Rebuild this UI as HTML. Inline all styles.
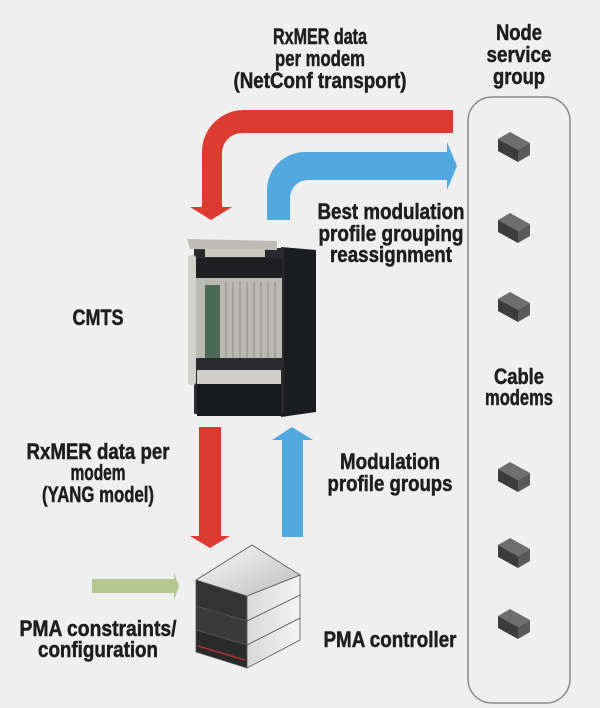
<!DOCTYPE html>
<html><head><meta charset="utf-8"><style>
html,body{margin:0;padding:0;background:#efefef;}
svg{display:block;}
text{font-family:"Liberation Sans",sans-serif;font-weight:bold;font-size:22px;fill:#1e1e1e;stroke:#1e1e1e;stroke-width:0.5;}
</style></head><body>
<svg width="600" height="708" viewBox="0 0 600 708" xmlns="http://www.w3.org/2000/svg">
<defs>
<linearGradient id="st" x1="0" y1="0" x2="1" y2="1"><stop offset="0" stop-color="#fafafa"/><stop offset="1" stop-color="#bdbdbd"/></linearGradient>
<linearGradient id="sr" x1="0" y1="0" x2="1" y2="0"><stop offset="0" stop-color="#d8d8d8"/><stop offset="1" stop-color="#f4f4f4"/></linearGradient>
<g id="modem">
<polygon points="0,7 12,0 32,11 20,18" fill="#6e6e6e"/>
<polygon points="0,7 20,18 20,30 0,19" fill="#3c3c3c"/>
<polygon points="20,18 32,11 32,23 20,30" fill="#5a5a5a"/>
</g>
</defs>

<rect x="468" y="97" width="102" height="606" rx="24" ry="24" fill="none" stroke="#8a8a8a" stroke-width="1.5"/>

<path d="M453,110 L244,110 A42,42 0 0 0 202,152 L202,207 L190,207 L211,220 L232,207 L222,207 L222,153 A20,20 0 0 1 242,133 L453,133 Z" fill="#dd3a30"/>
<path d="M267,220 L267,190 A38,38 0 0 1 305,152 L447,152 L447,142 L457,166 L447,190 L447,180 L308,180 A18,18 0 0 0 290,198 L290,220 Z" fill="#52a9df"/>

<path d="M199,427 L221,427 L221,536 L230,536 L210,548 L190,536 L199,536 Z" fill="#dd3a30"/>
<path d="M282,537 L303,537 L303,440 L313,440 L292,427 L272,440 L282,440 Z" fill="#52a9df"/>
<path d="M92,579 L174,579 L174,573 L179,586 L174,600 L174,593 L92,593 Z" fill="#b4c88f"/>

<g>
<polygon points="281,247 316,250 316,412 281,417" fill="#1c1d22"/>
<rect x="194" y="248" width="90" height="166" fill="#2a2a2e"/>
<polygon points="187,239 277,241 277,250 190,249" fill="#bdbdb5"/>
<rect x="205" y="249" width="60" height="8" fill="#c9c9c0"/>
<rect x="196" y="258" width="86" height="20" fill="#1f1f22"/>
<rect x="196" y="278" width="86" height="88" fill="#b9b9b2"/>
<rect x="205" y="285" width="15" height="80" fill="#4a6a55"/>
<g stroke="#8d8d87" stroke-width="1">
<line x1="226" y1="282" x2="226" y2="366"/><line x1="233" y1="282" x2="233" y2="366"/><line x1="240" y1="282" x2="240" y2="366"/><line x1="247" y1="282" x2="247" y2="366"/><line x1="254" y1="282" x2="254" y2="366"/><line x1="261" y1="282" x2="261" y2="366"/><line x1="268" y1="282" x2="268" y2="366"/><line x1="275" y1="282" x2="275" y2="366"/>
</g>
<rect x="196" y="358" width="86" height="12" fill="#2a2a2e"/>
<rect x="197" y="370" width="84" height="14" fill="#cfcfc8"/>
<rect x="197" y="384" width="84" height="32" fill="#17181b"/>
<rect x="188" y="255" width="8" height="130" rx="3" fill="#d2d2cc"/>
</g>

<g stroke="#555" stroke-width="0.8">
<polygon points="196,630 247,645 247,668 196,652" fill="#2a2a2a"/>
<polygon points="247,645 300,618 300,640 247,668" fill="url(#sr)"/>
<polygon points="196,606 247,621 247,645 196,630" fill="#3a3a3a"/>
<polygon points="247,621 300,595 300,618 247,645" fill="url(#sr)"/>
<polygon points="196,580 247,596 247,621 196,606" fill="#333"/>
<polygon points="247,596 300,575 300,595 247,621" fill="url(#sr)"/>
<polygon points="196,580 252,545 300,575 247,596" fill="url(#st)"/>
</g>
<line x1="198" y1="646" x2="245" y2="660" stroke="#a33" stroke-width="1.5"/>

<use href="#modem" x="498" y="132"/>
<use href="#modem" x="498" y="213"/>
<use href="#modem" x="498" y="292"/>
<use href="#modem" x="498" y="462"/>
<use href="#modem" x="498" y="538"/>
<use href="#modem" x="498" y="609"/>

<text x="320" y="44" text-anchor="middle" textLength="94" lengthAdjust="spacingAndGlyphs">RxMER data</text>
<text x="320" y="66" text-anchor="middle" textLength="90" lengthAdjust="spacingAndGlyphs">per modem</text>
<text x="320" y="88" text-anchor="middle" textLength="173" lengthAdjust="spacingAndGlyphs">(NetConf transport)</text>
<text x="519" y="40" text-anchor="middle" textLength="46" lengthAdjust="spacingAndGlyphs">Node</text>
<text x="519" y="62" text-anchor="middle" textLength="65" lengthAdjust="spacingAndGlyphs">service</text>
<text x="519" y="84" text-anchor="middle" textLength="52" lengthAdjust="spacingAndGlyphs">group</text>
<text x="391" y="219" text-anchor="middle" textLength="147" lengthAdjust="spacingAndGlyphs">Best modulation</text>
<text x="391" y="241" text-anchor="middle" textLength="145" lengthAdjust="spacingAndGlyphs">profile grouping</text>
<text x="391" y="262" text-anchor="middle" textLength="122" lengthAdjust="spacingAndGlyphs">reassignment</text>
<text x="98" y="325" text-anchor="middle" textLength="51" lengthAdjust="spacingAndGlyphs">CMTS</text>
<text x="519" y="384" text-anchor="middle" textLength="50" lengthAdjust="spacingAndGlyphs">Cable</text>
<text x="519" y="405" text-anchor="middle" textLength="68" lengthAdjust="spacingAndGlyphs">modems</text>
<text x="98" y="459" text-anchor="middle" textLength="143" lengthAdjust="spacingAndGlyphs">RxMER data per</text>
<text x="98" y="480" text-anchor="middle" textLength="55" lengthAdjust="spacingAndGlyphs">modem</text>
<text x="98" y="502" text-anchor="middle" textLength="112" lengthAdjust="spacingAndGlyphs">(YANG model)</text>
<text x="390" y="469" text-anchor="middle" textLength="100" lengthAdjust="spacingAndGlyphs">Modulation</text>
<text x="390" y="491" text-anchor="middle" textLength="125" lengthAdjust="spacingAndGlyphs">profile groups</text>
<text x="98" y="636" text-anchor="middle" textLength="157" lengthAdjust="spacingAndGlyphs">PMA constraints/</text>
<text x="98" y="657" text-anchor="middle" textLength="120" lengthAdjust="spacingAndGlyphs">configuration</text>
<text x="390" y="647" text-anchor="middle" textLength="133" lengthAdjust="spacingAndGlyphs">PMA controller</text>
</svg>
</body></html>
